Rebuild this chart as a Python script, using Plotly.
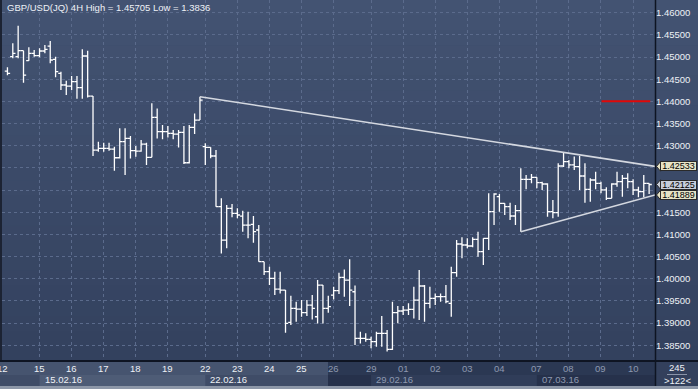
import plotly.graph_objects as go

# ---------------- data ----------------
bar_index = list(range(1, 122))

open_ = [1.44684, 1.45008, 1.45008, 1.45143, 1.44918, 1.45083, 1.45030, 1.45136, 1.45248, 1.44948,
         1.44632, 1.44369, 1.44346, 1.44444, 1.44308, 1.45023, 1.44120, 1.42902, 1.42940, 1.42940,
         1.42925, 1.42729, 1.43090, 1.43165, 1.42887, 1.42880, 1.43038, 1.42737, 1.43639, 1.43316,
         1.43316, 1.43278, 1.43263, 1.43301, 1.42616, 1.43414, 1.43579, 1.42979, 1.42964, 1.42768,
         1.41625, 1.40873, 1.41587, 1.41475, 1.41414, 1.41211, 1.41226, 1.41099, 1.40384, 1.40159,
         1.40008, 1.39768, 1.39745, 1.39016, 1.39331, 1.39316, 1.39234, 1.39407, 1.39143, 1.39858,
         1.39331, 1.39632, 1.39730, 1.40031, 1.39971, 1.39707, 1.38655, 1.38655, 1.38633, 1.38580,
         1.38768, 1.38768, 1.38407, 1.39234, 1.39272, 1.39294, 1.39309, 1.39520, 1.39836, 1.39445,
         1.39558, 1.39595, 1.39595, 1.39445, 1.40137, 1.40783, 1.40761, 1.40738, 1.40889, 1.40610,
         1.40911, 1.41513, 1.41851, 1.41701, 1.41626, 1.41415, 1.41535, 1.42242, 1.42242, 1.42287,
         1.42167, 1.42137, 1.41513, 1.41490, 1.42543, 1.42641, 1.42566, 1.42528, 1.42317, 1.42017,
         1.42227, 1.42152, 1.42002, 1.41814, 1.42137, 1.42190, 1.42265, 1.42189, 1.42001, 1.41963,
         1.42151]
high = [1.44767, 1.45309, 1.45705, 1.45143, 1.45218, 1.45158, 1.45196, 1.45271, 1.45361, 1.45008,
        1.44669, 1.44466, 1.44572, 1.44572, 1.45173, 1.45143, 1.44120, 1.43090, 1.43068, 1.43068,
        1.42977, 1.43391, 1.43391, 1.43218, 1.42992, 1.43128, 1.43068, 1.43955, 1.43842, 1.43466,
        1.43444, 1.43353, 1.43353, 1.43444, 1.43466, 1.43729, 1.44105, 1.43054, 1.42964, 1.42903,
        1.41813, 1.41663, 1.41685, 1.41587, 1.41535, 1.41512, 1.41414, 1.41211, 1.40384, 1.40271,
        1.40159, 1.40159, 1.39745, 1.39617, 1.39482, 1.39519, 1.39519, 1.39632, 1.39971, 1.39858,
        1.39617, 1.39820, 1.40136, 1.40211, 1.40437, 1.39850, 1.38806, 1.38768, 1.38693, 1.38806,
        1.39159, 1.38843, 1.39482, 1.39385, 1.39385, 1.39445, 1.39821, 1.40197, 1.39858, 1.39821,
        1.39670, 1.39670, 1.39858, 1.40272, 1.40874, 1.40934, 1.40911, 1.40934, 1.41062, 1.40911,
        1.41926, 1.41926, 1.41911, 1.41701, 1.41716, 1.41663, 1.42490, 1.42340, 1.42363, 1.42287,
        1.42190, 1.42152, 1.41776, 1.42603, 1.42844, 1.42678, 1.42754, 1.42769, 1.42603, 1.42265,
        1.42415, 1.42190, 1.42062, 1.42152, 1.42415, 1.42340, 1.42377, 1.42242, 1.42076, 1.42339,
        1.42151]
low = [1.44587, 1.44970, 1.44970, 1.44421, 1.44918, 1.45008, 1.44993, 1.45083, 1.44857, 1.44542,
       1.44256, 1.44143, 1.44256, 1.44060, 1.44060, 1.44090, 1.42767, 1.42865, 1.42865, 1.42887,
       1.42436, 1.42714, 1.42338, 1.42714, 1.42752, 1.42865, 1.42564, 1.42737, 1.43165, 1.43143,
       1.43188, 1.43143, 1.42962, 1.42586, 1.42600, 1.43263, 1.43579, 1.42565, 1.42715, 1.41625,
       1.40572, 1.40685, 1.41384, 1.41362, 1.41061, 1.40911, 1.40813, 1.40384, 1.40083, 1.39858,
       1.39632, 1.39670, 1.38782, 1.38955, 1.39031, 1.39143, 1.39158, 1.39083, 1.38993, 1.38993,
       1.39234, 1.39534, 1.39655, 1.39595, 1.39384, 1.38504, 1.38542, 1.38580, 1.38430, 1.38467,
       1.38467, 1.38360, 1.38392, 1.38994, 1.39182, 1.39182, 1.39106, 1.39069, 1.39031, 1.39332,
       1.39407, 1.39482, 1.39445, 1.39144, 1.40046, 1.40460, 1.40686, 1.40708, 1.40498, 1.40310,
       1.40648, 1.41212, 1.41513, 1.41438, 1.41325, 1.41212, 1.41062, 1.42017, 1.42152, 1.42039,
       1.42002, 1.41400, 1.41362, 1.41400, 1.42520, 1.42490, 1.42453, 1.42002, 1.41716, 1.41738,
       1.42017, 1.41926, 1.41776, 1.41814, 1.42077, 1.41851, 1.42039, 1.41888, 1.41836, 1.41836,
       1.41911]
close = [1.44632, 1.45083, 1.45143, 1.44594, 1.45083, 1.45030, 1.45136, 1.45173, 1.44933, 1.44669,
         1.44369, 1.44346, 1.44444, 1.44308, 1.45023, 1.44120, 1.42902, 1.42940, 1.42940, 1.42925,
         1.42729, 1.43090, 1.43165, 1.42887, 1.42880, 1.43038, 1.42737, 1.43639, 1.43316, 1.43316,
         1.43278, 1.43263, 1.43301, 1.42616, 1.43414, 1.43579, 1.44030, 1.42964, 1.42768, 1.41625,
         1.40873, 1.41587, 1.41475, 1.41437, 1.41211, 1.41211, 1.41061, 1.40384, 1.40159, 1.40008,
         1.39768, 1.39745, 1.38993, 1.39331, 1.39316, 1.39234, 1.39407, 1.39331, 1.39858, 1.39331,
         1.39369, 1.39730, 1.40031, 1.39971, 1.39745, 1.38655, 1.38655, 1.38633, 1.38580, 1.38768,
         1.38768, 1.38407, 1.39234, 1.39272, 1.39294, 1.39309, 1.39520, 1.39836, 1.39445, 1.39558,
         1.39595, 1.39595, 1.39482, 1.40137, 1.40783, 1.40761, 1.40738, 1.40889, 1.40610, 1.40911,
         1.41513, 1.41911, 1.41701, 1.41626, 1.41415, 1.41535, 1.42242, 1.42242, 1.42287, 1.42167,
         1.42137, 1.41513, 1.41490, 1.42543, 1.42641, 1.42566, 1.42528, 1.42317, 1.42017, 1.42227,
         1.42152, 1.42002, 1.41814, 1.42137, 1.42190, 1.42265, 1.42189, 1.42001, 1.41963, 1.42151,
         1.42125]

day_tick_index = [0, 7, 13, 19, 25, 31, 38, 44, 50, 56, 62, 69, 75, 81, 87, 93, 100, 106, 112, 118]
day_tick_text = ['12', '15', '16', '17', '18', '19', '22', '23', '24', '25', '26',
                 '29', '01', '02', '03', '04', '07', '08', '09', '10']
week_start_index = [7, 38, 69, 100]
week_end_index = [38, 69, 100, 131]
week_labels = ['15.02.16', '22.02.16', '29.02.16', '07.03.16']

price_ticks = [1.385, 1.390, 1.395, 1.400, 1.405, 1.410, 1.415, 1.420,
               1.425, 1.430, 1.435, 1.440, 1.445, 1.450, 1.455, 1.460]
price_tick_text = ['1.38500', '1.39000', '1.39500', '1.40000', '1.40500', '1.41000', '1.41500', '',
                   '', '1.43000', '1.43500', '1.44000', '1.44500', '1.45000', '1.45500', '1.46000']

upper_tl_x = [37, 122.1]
upper_tl_y = [1.44105, 1.42533]
lower_tl_x = [97, 122.1]
lower_tl_y = [1.41062, 1.41889]
level_x = [112.1, 121.2]
level_y = [1.44, 1.44]

tag_prices = [1.42533, 1.42125, 1.41889]
tag_colors = ['#e6e3c6', '#c7cdd9', '#e6e3c6']

title_text = 'GBP/USD(JQ) 4H High = 1.45705 Low = 1.3836'
bar_count_text = '245'
visible_text = '>122<'

# ---------------- layout geometry ----------------
W, H = 698, 389
ML, MR, MT, MB = 2, 43, 0, 28
PW, PH = W - ML - MR, H - MT - MB


def px2x(px):
    return (px - ML) / PW


def py2y(py):
    return (MT + PH - py) / PH


FONT = 'Liberation Sans, Arial, sans-serif'
WHITE = '#eef1f6'
GRAY = '#8e99b0'

fig = go.Figure()

fig.add_trace(go.Ohlc(
    x=bar_index, open=open_, high=high, low=low, close=close,
    increasing=dict(line=dict(color='#ffffff', width=1.3)),
    decreasing=dict(line=dict(color='#ffffff', width=1.3)),
    tickwidth=0.5, showlegend=False, hoverinfo='skip'))

fig.add_trace(go.Scatter(x=upper_tl_x, y=upper_tl_y, mode='lines',
                         line=dict(color='#d4d8e0', width=1.6), showlegend=False, hoverinfo='skip'))
fig.add_trace(go.Scatter(x=lower_tl_x, y=lower_tl_y, mode='lines',
                         line=dict(color='#d4d8e0', width=1.6), showlegend=False, hoverinfo='skip'))
fig.add_trace(go.Scatter(x=level_x, y=level_y, mode='lines',
                         line=dict(color='#e00808', width=2), showlegend=False, hoverinfo='skip'))

shapes = []
# background gradient (plot area + right scale column)
top = (0x43, 0x53, 0x72)
bot = (0x33, 0x41, 0x5e)
nb = 24
for k in range(nb):
    t = (k + 0.5) / nb
    c = tuple(int(round(top[i] + (bot[i] - top[i]) * t)) for i in range(3))
    shapes.append(dict(type='rect', xref='paper', yref='paper', layer='below',
                       x0=px2x(0), x1=px2x(W), y0=1 - (k + 1) / nb - 0.002, y1=1 - k / nb,
                       fillcolor='rgb(%d,%d,%d)' % c, line=dict(width=0)))
# left dark edge
shapes.append(dict(type='rect', xref='paper', yref='paper', x0=px2x(0), x1=px2x(2),
                   y0=py2y(361), y1=py2y(0), fillcolor='#1c2333', line=dict(width=0)))
# bottom strip: light part and dark part
split_px = 328
shapes += [
    dict(type='rect', xref='paper', yref='paper', x0=px2x(0), x1=px2x(split_px),
         y0=py2y(375), y1=py2y(361), fillcolor='#46546f', line=dict(width=0)),
    dict(type='rect', xref='paper', yref='paper', x0=px2x(0), x1=px2x(split_px),
         y0=py2y(386), y1=py2y(375), fillcolor='#3f4c67', line=dict(width=0)),
    dict(type='rect', xref='paper', yref='paper', x0=px2x(split_px), x1=px2x(655),
         y0=py2y(375), y1=py2y(361), fillcolor='#2b3853', line=dict(width=0)),
    dict(type='rect', xref='paper', yref='paper', x0=px2x(split_px), x1=px2x(655),
         y0=py2y(386), y1=py2y(375), fillcolor='#26314b', line=dict(width=0)),
]
# alternating week boxes in the date row
shapes.append(dict(type='rect', xref='x', yref='paper', x0=week_start_index[0], x1=week_end_index[0],
                   y0=py2y(386), y1=py2y(375), fillcolor='#4e5c76', line=dict(width=0)))
shapes.append(dict(type='rect', xref='x', yref='paper', x0=week_start_index[2], x1=week_end_index[2],
                   y0=py2y(386), y1=py2y(375), fillcolor='#303d59', line=dict(width=0)))
# bottom-right info box
shapes.append(dict(type='rect', xref='paper', yref='paper', x0=px2x(655), x1=px2x(W),
                   y0=py2y(386), y1=py2y(361), fillcolor='#33405c', line=dict(width=0)))
shapes.append(dict(type='line', xref='paper', yref='paper', x0=px2x(667), x1=px2x(687),
                   y0=py2y(374.5), y1=py2y(374.5), line=dict(color='#8a94a8', width=1)))
# separator lines
shapes.append(dict(type='line', xref='paper', yref='paper', x0=px2x(0), x1=px2x(W),
                   y0=py2y(361), y1=py2y(361), line=dict(color='#0e1422', width=2)))
shapes.append(dict(type='line', xref='paper', yref='paper', x0=px2x(655.5), x1=px2x(655.5),
                   y0=py2y(386), y1=py2y(0), line=dict(color='#0e1422', width=1.5)))
shapes.append(dict(type='rect', xref='paper', yref='paper', x0=px2x(0), x1=px2x(W),
                   y0=py2y(H), y1=py2y(386), fillcolor='#8d97a8', line=dict(width=0)))
# price tag pointers
for p, col in zip(tag_prices, tag_colors):
    shapes.append(dict(type='path', xref='paper', yref='y',
                       path='M %f %f L %f %f L %f %f Z' % (px2x(660.5), p + 0.00108, px2x(656.5), p,
                                                          px2x(660.5), p - 0.00108),
                       fillcolor=col, line=dict(color='#2a2a2a', width=1)))

annotations = []
annotations.append(dict(xref='paper', yref='paper', x=px2x(5), y=py2y(7.5), text=title_text,
                        showarrow=False, xanchor='left', yanchor='middle',
                        font=dict(family=FONT, size=9.5, color=WHITE)))
for i, (xi, tx) in enumerate(zip(day_tick_index, day_tick_text)):
    annotations.append(dict(xref='x', yref='paper', x=xi, y=py2y(368.5), text=tx,
                            showarrow=False, xanchor='center', yanchor='middle',
                            font=dict(family=FONT, size=9.5, color=WHITE if i < 10 else GRAY)))
for i, (xi, tx) in enumerate(zip(week_start_index, week_labels)):
    annotations.append(dict(xref='x', yref='paper', x=xi, y=py2y(379.5), text=tx,
                            showarrow=False, xanchor='left', yanchor='middle', xshift=3,
                            font=dict(family=FONT, size=9.5, color=WHITE if i < 2 else GRAY)))
for p, col in zip(tag_prices, tag_colors):
    annotations.append(dict(xref='paper', yref='y', x=px2x(678.5), y=p, text='%.5f' % p,
                            showarrow=False, xanchor='center', yanchor='middle',
                            bgcolor=col, bordercolor='#2a2a2a', borderwidth=1, borderpad=0,
                            width=35, height=8,
                            font=dict(family=FONT, size=9, color='#000000')))
annotations.append(dict(xref='paper', yref='paper', x=px2x(677), y=py2y(367.5), text=bar_count_text,
                        showarrow=False, xanchor='center', yanchor='middle',
                        font=dict(family=FONT, size=9.5, color=WHITE)))
annotations.append(dict(xref='paper', yref='paper', x=px2x(677), y=py2y(381), text=visible_text,
                        showarrow=False, xanchor='center', yanchor='middle',
                        font=dict(family=FONT, size=9.5, color=WHITE)))

GRID = '#5b6b8c'
fig.update_layout(
    width=W, height=H,
    margin=dict(l=ML, r=MR, t=MT, b=MB, pad=0),
    paper_bgcolor='#3b4a68',
    plot_bgcolor='rgba(0,0,0,0)',
    showlegend=False,
    hovermode=False,
    shapes=shapes,
    annotations=annotations,
    xaxis=dict(range=[-0.02, 122.1], rangeslider=dict(visible=False),
               tickvals=day_tick_index, showticklabels=False, ticks='',
               showgrid=True, gridcolor=GRID, gridwidth=1, griddash='3px,3px',
               zeroline=False, showline=False, fixedrange=True, automargin=False),
    yaxis=dict(range=[1.38145, 1.46286], side='right', tickvals=price_ticks,
               ticktext=price_tick_text, ticks='', showgrid=True, gridcolor=GRID, gridwidth=1,
               griddash='3px,3px', zeroline=False, showline=False, automargin=False,
               tickfont=dict(family=FONT, size=9.5, color=WHITE), fixedrange=True),
)

fig.write_html('out.html', config={'displayModeBar': False},
               post_script="document.body.style.margin='0';document.body.style.overflow='hidden';")
